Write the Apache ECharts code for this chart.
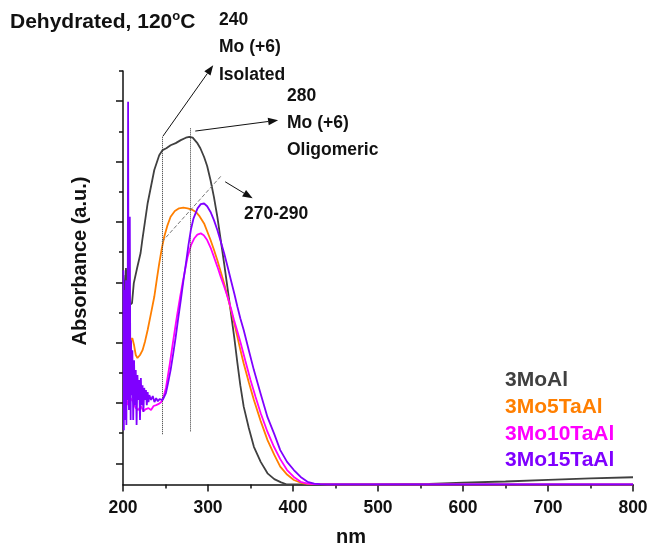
<!DOCTYPE html>
<html>
<head>
<meta charset="utf-8">
<script src="https://cdn.jsdelivr.net/npm/echarts@6/dist/echarts.min.js"></script>
<style>
html, body { margin: 0; padding: 0; background: #fff; }
#chart { width: 651px; height: 547px; }
</style>
</head>
<body>
<div id="chart"></div>
<script>
// wavelength (nm), absorbance (a.u.)
var seriesNames = ['3MoAl', '3Mo5TaAl', '3Mo10TaAl', '3Mo15TaAl'];
var seriesColors = ['#404040', '#ff7f00', '#ff00ff', '#7f00ff'];

var moAl = [
	[200.5, .694], [202, .609], [203.5, .717], [205, .627], [206.5, .661], [208, .594], [210.6, .601],
	[212.7, .667], [216.8, .720], [220.7, .767], [222.7, .810], [229, .932], [236.8, 1.042], [242.6, 1.091],
	[246.6, 1.108], [251, 1.114], [256, 1.124], [262, 1.131], [268, 1.141], [274, 1.149], [278, 1.152],
	[282, 1.149], [287.7, 1.130], [291, 1.114], [295.4, 1.085], [299, 1.055], [303, 1.008], [307, .952],
	[311, .887], [315, .810], [319, .732], [323, .651], [327, .568], [331, .485], [334.6, .402], [338, .329],
	[342, .258], [348, .187], [354, .125], [362, .075], [370, .037], [378, .018], [386, .007], [393, 0],
	[450, 0], [500, 0], [560, .002], [600, .006], [650, .010], [700, .015], [750, .020], [800, .024]
];

var mo5Ta = [
	[201, .462], [203, .512], [205, .445], [207, .495], [209, .478], [211, .485], [213, .462], [215, .429],
	[217, .419], [220, .429], [223, .445], [226, .475], [229, .512], [233, .568], [236.8, .622], [240, .684],
	[242.6, .732], [245.5, .780], [248.5, .821], [252, .856], [256, .887], [261, .906], [266, .915],
	[271, .917], [276, .915], [281, .911], [285.7, .903], [290, .889], [295.4, .865], [299, .839], [303, .810],
	[307, .778], [311, .743], [315, .705], [319, .666], [323, .623], [327, .578], [331, .533], [334.6, .489],
	[338, .447], [342, .401], [348, .339], [354, .280], [362, .210], [370, .147], [378, .098], [385, .059],
	[393, .033], [401, .015], [410, .005], [417, .002], [430, .001], [450, 0], [500, 0], [800, 0]
];

var mo10Ta = [
	[203, .296], [206, .263], [209, .286], [212, .273], [215, .253], [218, .247], [221, .260], [224, .243],
	[227, .250], [230, .253], [233, .247], [236, .260], [239, .263], [242, .267], [245, .273], [248, .293],
	[250.5, .320], [252, .346], [255, .399], [258, .456], [261, .512], [264, .567], [267, .618], [270, .666],
	[273, .710], [276, .754], [280, .793], [283.7, .815], [287.5, .828], [291.5, .832], [295, .826],
	[299, .810], [303, .785], [307, .754], [311, .722], [315, .688], [319, .656], [323, .622], [327, .584],
	[330.6, .545], [334.6, .507], [338.5, .468], [344, .409], [350, .346], [356, .290], [362, .236],
	[370, .174], [377.6, .125], [385, .084], [393, .048], [401, .025], [409, .009], [417, .003], [425, .001],
	[440, 0], [800, 0]
];

var mo15Ta = [
	[200.5, .710], [201, .180], [201.5, .611], [202, .214], [202.5, .644], [203, .346], [203.5, .677],
	[204, .197], [204.5, .545], [205, .280], [205.5, .512], [206, 1.268], [206.5, .512], [207, .247],
	[207.5, .611], [208, .887], [208.5, .445], [209, .214], [209.5, .478], [210, .296], [211, .445],
	[212, .214], [213, .412], [214, .263], [215, .379], [216, .197], [217, .363], [218, .280], [219, .346],
	[220, .214], [221, .353], [222, .263], [223, .329], [224, .240], [225, .320], [226, .280], [227, .313],
	[228, .263], [229, .306], [230, .273], [231, .296], [233, .280], [235, .293], [237, .273], [239, .286],
	[241, .276], [243, .283], [246.6, .280], [250.5, .303], [253, .336], [256, .379], [259, .432],
	[262, .488], [265, .551], [268, .611], [271, .674], [274, .732], [277, .793], [279.8, .843], [283, .882],
	[287.7, .915], [291.5, .929], [295.4, .931], [299, .922], [303, .903], [307, .876], [311, .843],
	[315, .805], [319, .766], [323, .722], [327, .677], [331, .632], [334.6, .589], [338, .551], [342, .512],
	[348, .445], [354, .379], [362, .300], [370, .223], [378, .167], [385, .114], [393, .075], [401, .048],
	[409, .025], [417, .009], [425, .003], [432, .001], [445, 0], [800, 0]
];

var yMajorTicks = [0.07, 0.27, 0.47, 0.67, 0.87, 1.07, 1.27];
var yMinorTicks = [0.17, 0.37, 0.57, 0.77, 0.97, 1.17, 1.37];

// dotted / dashed guides and arrows, in data units
var guideLines = [
	[[246.3, 1.152], [246.3, 0.164], 'dotted'],
	[[279.1, 1.180], [279.1, 0.175], 'dotted'],
	[[245.8, 0.804], [316.3, 1.025], 'dashed']
];
var arrowLines = [
	[[247.0, 1.154], [306.1, 1.389]],
	[[285.0, 1.171], [382.5, 1.207]],
	[[320.2, 1.003], [352.5, 0.948]]
];

var FONT = 'Liberation Sans';
var chart = echarts.init(document.getElementById('chart'));

var lineSeries = [moAl, mo5Ta, mo10Ta, mo15Ta].map(function (d, i) {
	return {
		name: seriesNames[i],
		type: 'line',
		data: d,
		showSymbol: false,
		symbol: 'none',
		color: seriesColors[i],
		lineStyle: { width: 1.8, color: seriesColors[i] },
		z: 2 + i
	};
});

lineSeries.push({
	name: 'guides',
	type: 'line',
	data: [],
	clip: false,
	markLine: {
		silent: true,
		animation: false,
		symbol: ['none', 'none'],
		label: { show: false },
		data: guideLines.map(function (g) {
			return [
				{ coord: g[0], lineStyle: { type: g[2], color: g[2] == 'dotted' ? '#333' : '#777', width: 1 } },
				{ coord: g[1] }
			];
		})
	}
});

function annText(x, y, t) {
	return {
		type: 'text', left: x, top: y - 10,
		style: { text: t, font: 'bold 17.5px "' + FONT + '"', fill: '#111' }
	};
}

var texts = [
	annText(219, 21, '240'),
	annText(219, 48, 'Mo (+6)'),
	annText(219, 76, 'Isolated'),
	annText(287, 97, '280'),
	annText(287, 124, 'Mo (+6)'),
	annText(287, 151, 'Oligomeric'),
	annText(244, 215, '270-290'),
	{
		type: 'text', x: 80, y: 261, rotation: Math.PI / 2,
		style: { text: 'Absorbance (a.u.)', font: 'bold 20px "' + FONT + '"', fill: '#111', align: 'center', verticalAlign: 'middle' }
	},
	{
		type: 'text', x: 351, y: 537,
		style: { text: 'nm', font: 'bold 20px "' + FONT + '"', fill: '#111', align: 'center', verticalAlign: 'middle' }
	}
];

var option = {
	animation: false,
	backgroundColor: '#fff',
	title: {
		left: 10, top: 10, padding: 0,
		text: '{a|Dehydrated, 120}{s|o}{a|C}',
		textStyle: {
			rich: {
				a: { fontFamily: FONT, fontWeight: 'bold', fontSize: 21, color: '#111', lineHeight: 25 },
				s: { fontFamily: FONT, fontWeight: 'bold', fontSize: 13, color: '#111', verticalAlign: 'top', lineHeight: 14 }
			}
		}
	},
	legend: {
		orient: 'vertical',
		left: 495, top: 365,
		icon: 'none',
		itemWidth: 0, itemHeight: 21, itemGap: 5.7,
		selectedMode: false,
		textStyle: { fontFamily: FONT, fontWeight: 'bold', fontSize: 21, lineHeight: 21 },
		data: seriesNames.map(function (n, i) {
			return { name: n, textStyle: { color: seriesColors[i] } };
		})
	},
	grid: { left: 123, right: 18, top: 71, bottom: 62.5 },
	xAxis: {
		type: 'value',
		min: 200, max: 800, interval: 100,
		axisLine: { onZero: false, lineStyle: { color: '#111', width: 1.5 } },
		axisTick: { length: 7, lineStyle: { color: '#111', width: 1.5 } },
		minorTick: { show: true, splitNumber: 2, length: 4, lineStyle: { color: '#111', width: 1.5 } },
		splitLine: { show: false },
		axisLabel: { margin: 15, fontFamily: FONT, fontWeight: 'bold', fontSize: 17.5, color: '#111' }
	},
	yAxis: [{
		type: 'value',
		min: 0, max: 1.37,
		axisLine: { show: true, lineStyle: { color: '#111', width: 1.5 } },
		axisTick: { show: true, length: 7, customValues: yMajorTicks, lineStyle: { color: '#111', width: 1.5 } },
		axisLabel: { show: false },
		splitLine: { show: false }
	}, {
		type: 'value',
		position: 'left',
		min: 0, max: 1.37,
		axisLine: { show: false },
		axisTick: { show: true, length: 4, customValues: yMinorTicks, lineStyle: { color: '#111', width: 1.5 } },
		axisLabel: { show: false },
		splitLine: { show: false }
	}],
	graphic: texts,
	series: lineSeries
};

chart.setOption(option);

// arrows: placed through the grid's own scale
var arrows = [];
arrowLines.forEach(function (a) {
	var p0 = chart.convertToPixel({ gridIndex: 0 }, a[0]);
	var p1 = chart.convertToPixel({ gridIndex: 0 }, a[1]);
	var dx = p1[0] - p0[0], dy = p1[1] - p0[1];
	var len = Math.sqrt(dx * dx + dy * dy);
	var ux = dx / len, uy = dy / len;
	var hl = 10, hw = 3.8;
	var bx = p1[0] - ux * hl, by = p1[1] - uy * hl;
	arrows.push({
		type: 'line', silent: true,
		shape: { x1: p0[0], y1: p0[1], x2: bx, y2: by },
		style: { stroke: '#111', lineWidth: 1 }
	});
	arrows.push({
		type: 'polygon', silent: true,
		shape: { points: [[p1[0], p1[1]], [bx - uy * hw, by + ux * hw], [bx + uy * hw, by - ux * hw]] },
		style: { fill: '#111' }
	});
});
chart.setOption({ graphic: texts.concat(arrows) });
</script>
</body>
</html>
